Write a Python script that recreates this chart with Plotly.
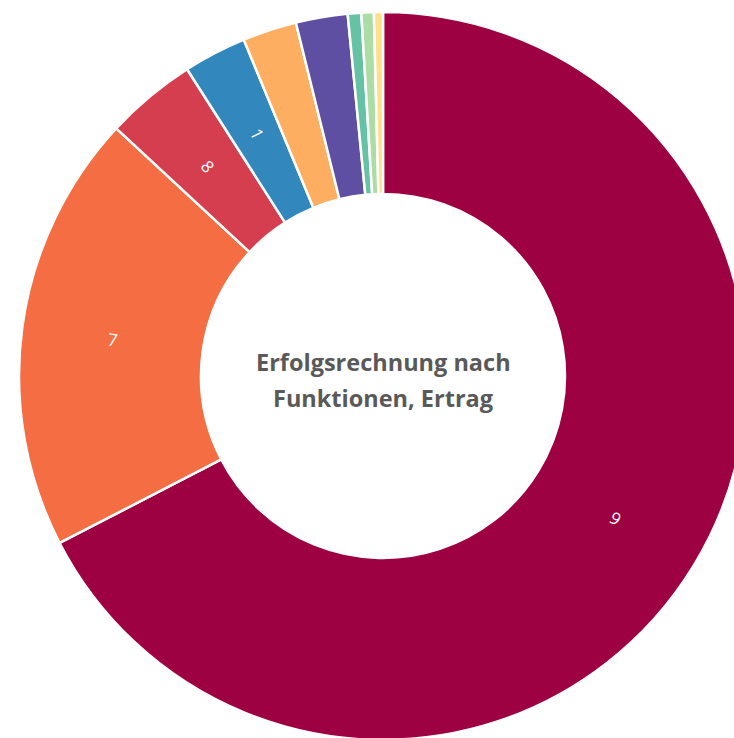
import math
import plotly.graph_objects as go

# Data (share of total in %)
labels = ["9", "7", "8", "1", "2", "5", "0", "6", "3"]
values = [67.45, 19.5, 4.05, 2.8, 2.4, 2.3, 0.6, 0.55, 0.4]
shown_labels = ["9", "7", "8", "1"]
colors = ["#9e0142", "#f46d43", "#d53e4f", "#3288bd", "#fdae61",
          "#5e4fa2", "#66c2a5", "#abdda4", "#fee08b"]
center_lines = ["Erfolgsrechnung nach", "Funktionen, Ertrag"]

HOLE = 0.5

fig = go.Figure(go.Pie(
    labels=labels,
    values=values,
    textinfo="none",
    hole=HOLE,
    sort=False,
    direction="clockwise",
    rotation=0,
    marker=dict(colors=colors, line=dict(color="white", width=2.5)),
    showlegend=False,
    hoverinfo="label+value",
))

# Slice labels placed radially at the middle of each slice (derived from the values)
total = sum(values)
cum = 0.0
rmid = 0.5 * (1 + HOLE) / 2  # mid-ring radius in paper units (pie radius = 0.5)
for lab, v in zip(labels, values):
    mid = (cum + v / 2) / total * 360.0
    cum += v
    if lab not in shown_labels:
        continue
    th = math.radians(mid)
    ang = mid - 90 if mid <= 180 else mid - 270
    fig.add_annotation(
        text=lab, x=0.5 + rmid * math.sin(th), y=0.5 + rmid * math.cos(th),
        xref="paper", yref="paper", xanchor="center", yanchor="middle",
        showarrow=False, textangle=ang,
        font=dict(color="white", size=17, family="Open Sans"),
    )

fig.add_annotation(text="<b>" + center_lines[0] + "</b>", x=0.5, y=0.5, xref="paper", yref="paper",
                   xanchor="center", yanchor="middle", yshift=14, showarrow=False,
                   font=dict(family="Open Sans", size=23.5, color="#595959"))
fig.add_annotation(text="<b>" + center_lines[1] + "</b>", x=0.5, y=0.5, xref="paper", yref="paper",
                   xanchor="center", yanchor="middle", yshift=-22, showarrow=False,
                   font=dict(family="Open Sans", size=23.5, color="#595959"))

fig.update_layout(
    width=747, height=740,
    margin=dict(l=19, r=0, t=12, b=0),
    paper_bgcolor="white",
    plot_bgcolor="white",
)

fig.write_html(
    "out.html",
    config={"displayModeBar": False},
    post_script="document.body.style.margin='0';document.body.style.overflow='hidden';document.documentElement.style.overflow='hidden';",
)
